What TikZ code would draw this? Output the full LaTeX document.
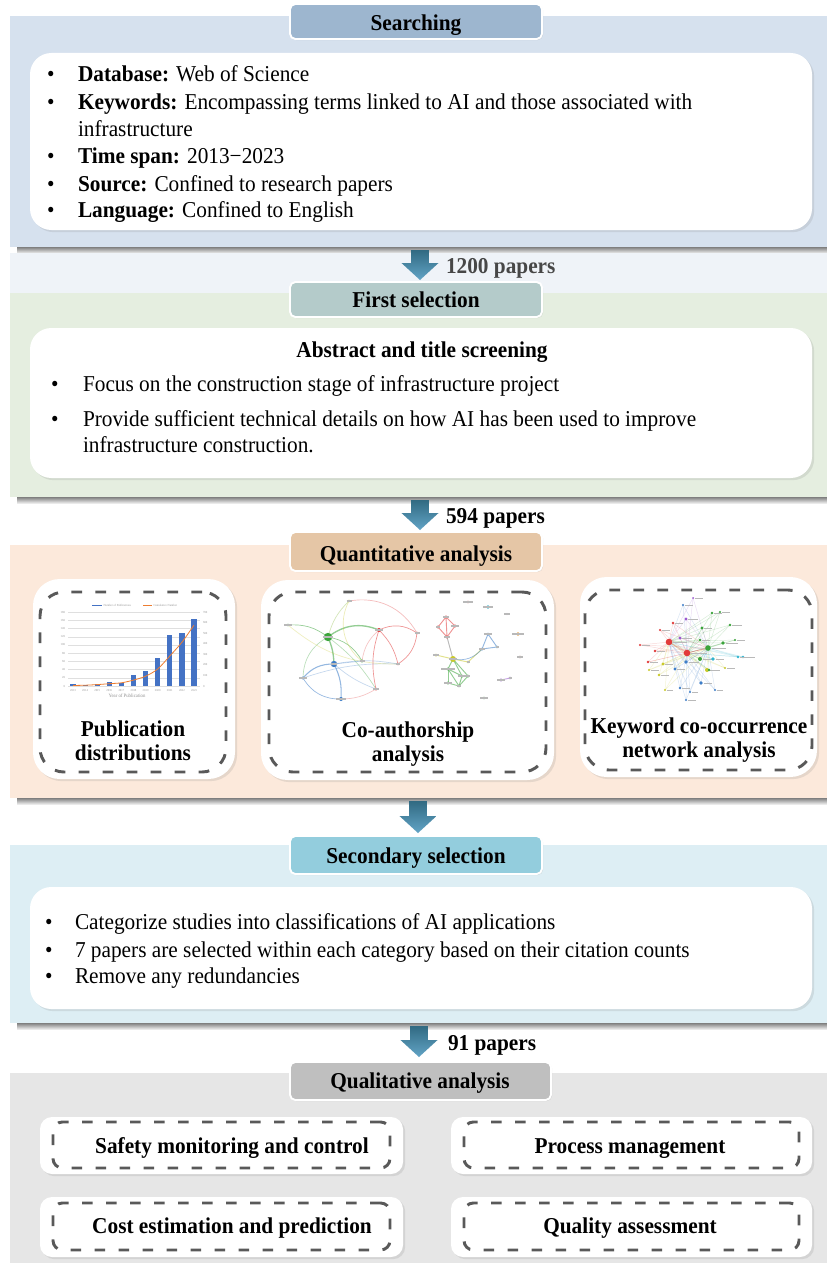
\documentclass[tikz,border=0pt]{standalone}
\usepackage{fontspec}
\setmainfont{Liberation Serif}[FakeStretch=0.94]
\usetikzlibrary{shadows,fit,calc}

\definecolor{searchbg}{HTML}{D6E1EE}
\definecolor{searchhd}{HTML}{9DB6CF}
\definecolor{bandbg}{HTML}{EFF3F8}
\definecolor{firstbg}{HTML}{E5EEE0}
\definecolor{firsthd}{HTML}{B4CBCA}
\definecolor{quantbg}{HTML}{FCE9DB}
\definecolor{quanthd}{HTML}{E5C6A6}
\definecolor{secbg}{HTML}{DDEEF4}
\definecolor{sechd}{HTML}{93CDDD}
\definecolor{qualbg}{HTML}{E6E6E6}
\definecolor{qualhd}{HTML}{BFBFBF}
\definecolor{dashgray}{HTML}{595959}
\definecolor{arrowtop}{HTML}{316A82}
\definecolor{arrowbot}{HTML}{62A4C6}
\definecolor{barblue}{HTML}{4472C4}
\definecolor{cumorange}{HTML}{ED7D31}
\definecolor{knred}{HTML}{E23B3B}
\definecolor{kngreen}{HTML}{3BA43B}
\definecolor{knblue}{HTML}{3E7EC8}
\definecolor{knyellow}{HTML}{C9C92A}
\definecolor{knpurple}{HTML}{9B59D0}
\definecolor{kncyan}{HTML}{2FB5CF}
\definecolor{knorange}{HTML}{E89A3C}
\definecolor{knbrown}{HTML}{A0523C}
\definecolor{knpink}{HTML}{D860C0}

% block arrow from the top of its shaft (#1) to its tip (#2)
\newcommand\flowarrow[2]{%
  \path[top color=arrowtop, bottom color=arrowbot]
    let \p1=(#1), \p2=(#2) in
    (\x1-6.6pt,\y1) -- (\x1+6.6pt,\y1) -- (\x1+6.6pt,\y2+12.75pt)
    -- (\x1+13.9pt,\y2+12.75pt) -- (\x2,\y2) -- (\x1-13.9pt,\y2+12.75pt)
    -- (\x1-6.6pt,\y2+12.75pt) -- cycle;}

\begin{document}
\begin{tikzpicture}[x=0.75pt,y=-0.75pt,
  every node/.style={inner sep=0pt, outer sep=0pt},
  sectbg/.style={inner sep=0pt, draw=none},
  sectshadow/.style={top color=black!50, bottom color=black!8},
  titlebox/.style={inner sep=0pt, draw=white, line width=1.4pt, rounded corners=4pt,
    drop shadow={opacity=0.2, shadow xshift=0.8pt, shadow yshift=-0.8pt}},
  whitebox/.style={inner sep=0pt, fill=white, draw=none,
    drop shadow={opacity=0.18, shadow xshift=1.6pt, shadow yshift=-1.6pt}},
  dashbox/.style={inner sep=0pt, draw=dashgray, line width=2.2pt,
    dash pattern=on 8pt off 10pt},
  bodytext/.style={font=\fontsize{17}{20}\selectfont, anchor=base west},
  headtext/.style={font=\bfseries\fontsize{17}{20}\selectfont, anchor=base},
  numtext/.style={font=\bfseries\fontsize{17}{20}\selectfont, anchor=base west},
  tinytext/.style={font=\fontsize{2.3}{2.6}\selectfont, text=gray!80},
  lbl/.style={draw=gray!55, line width=0.8pt},
  caedge/.style={line width=0.5pt, opacity=0.55},
]
\useasboundingbox (0,0) rectangle (827,1263);
\fill[white] (0,0) rectangle (827,1263);

%% ---------------- Searching ----------------
\node[sectbg, fit={(10,16) (827,247)}, fill=searchbg] (sec1) {};
\shade[sectshadow] (17,247) rectangle (827,253);
\fill[bandbg] (10,253) rectangle (827,293);
\node[titlebox, fill=searchhd, fit={(290,4) (542,39)}] (hd1) {};
\node[headtext] (hd1t) at (416,31) {Searching};
\node[whitebox, rounded corners=16pt, fit={(30,53) (812,230)}] (wb1) {};
\node[bodytext] (s1b1) at (47,82) {•};
\node[bodytext] (s1t1) at (78,82) {\textbf{Database:} Web of Science};
\node[bodytext] (s1b2) at (47,109) {•};
\node[bodytext] (s1t2) at (78,109) {\textbf{Keywords:} Encompassing terms linked to AI and those associated with};
\node[bodytext] (s1t2b) at (78,136) {infrastructure};
\node[bodytext] (s1b3) at (47,163) {•};
\node[bodytext] (s1t3) at (78,163) {\textbf{Time span:} 2013−2023};
\node[bodytext] (s1b4) at (47,191) {•};
\node[bodytext] (s1t4) at (78,191) {\textbf{Source:} Confined to research papers};
\node[bodytext] (s1b5) at (47,217) {•};
\node[bodytext] (s1t5) at (78,217) {\textbf{Language:} Confined to English};

%% ---------------- First selection ----------------
\node[sectbg, fit={(10,293) (827,497)}, fill=firstbg] (sec2) {};
\shade[sectshadow] (17,497) rectangle (827,503);
\coordinate (a1s) at (420,250);
\coordinate (a1e) at (420,280);
\flowarrow{a1s}{a1e}
\node[numtext, text=black!72] (n1) at (446,273) {1200 papers};
\node[titlebox, fill=firsthd, fit={(290,282) (542,317)}] (hd2) {};
\node[headtext] (hd2t) at (416,307) {First selection};
\node[whitebox, rounded corners=16pt, fit={(30,328) (812,478)}] (wb2) {};
\node[headtext] (s2h) at (422,357) {Abstract and title screening};
\node[bodytext] (s2b1) at (51,391) {•};
\node[bodytext] (s2t1) at (83,391) {Focus on the construction stage of infrastructure project};
\node[bodytext] (s2b2) at (51,426) {•};
\node[bodytext] (s2t2) at (83,426) {Provide sufficient technical details on how AI has been used to improve};
\node[bodytext] (s2t2b) at (83,452) {infrastructure construction.};

%% ---------------- Quantitative analysis ----------------
\node[sectbg, fit={(10,545) (827,798)}, fill=quantbg] (sec3) {};
\shade[sectshadow] (17,798) rectangle (827,804);
\coordinate (a2s) at (420,500);
\coordinate (a2e) at (420,530);
\flowarrow{a2s}{a2e}
\node[numtext] (n2) at (446,523) {594 papers};
\node[titlebox, fill=quanthd, fit={(290,532) (542,571)}] (hd3) {};
\node[headtext] (hd3t) at (416,561) {Quantitative analysis};

\node[whitebox, rounded corners=20pt, fit={(33,579) (235,779)}] (qa) {};
\node[dashbox, rounded corners=18pt, fit={(40,592) (226,772)}] (qad) {};
\node[whitebox, rounded corners=20pt, fit={(261,580) (554,780)}] (qb) {};
\node[dashbox, rounded corners=18pt, fit={(269,592) (546,772)}] (qbd) {};
\node[whitebox, rounded corners=20pt, fit={(580,577) (817,777)}] (qc) {};
\node[dashbox, rounded corners=18pt, fit={(585,590) (812,770)}] (qcd) {};

% publication distribution chart
\foreach \k in {0,...,9} {
  \draw[gray!25, line width=0.2pt] (68,{686-\k*8.22}) -- (200,{686-\k*8.22});
  \pgfmathtruncatemacro\lv{\k*20}
  \node[tinytext, anchor=east] (yl\k) at (65,{686-\k*8.22}) {\lv};
}
\foreach \k in {0,...,7} {
  \pgfmathtruncatemacro\rv{\k*100}
  \node[tinytext, anchor=west] (yr\k) at (203,{686-\k*10.57}) {\rv};
}
\foreach \v [count=\i from 0] in {5,3,5,9,8,26,37,68,123,129,163} {
  \fill[barblue] ({73+12.1*\i-2.6},686) rectangle ++(5.2,{-\v*0.411});
}
\foreach \yr [count=\i from 0] in {2013,2014,2015,2016,2017,2018,2019,2020,2021,2022,2023} {
  \node[tinytext] (yy\i) at ({73+12.1*\i},690) {\yr};
}
\draw[cumorange, line width=0.6pt] plot[smooth] coordinates {(73,685.5) (85.1,685.2) (97.2,684.6)
  (109.3,683.7) (121.4,682.8) (133.5,680.1) (145.6,676.2) (157.7,669.0) (169.8,656.0)
  (181.9,642.3) (194,625.1)};
\fill[barblue] (92,604.8) rectangle (102,606.4);
\node[tinytext, anchor=west] (lg1) at (103.5,605.6) {Number of Publications};
\draw[cumorange, line width=0.6pt] (143,605.6) -- (152,605.6);
\node[tinytext, anchor=west] (lg2) at (153.5,605.6) {Cumulative Number};
\node[font=\fontsize{3.8}{4}\selectfont, text=gray!85] (xlab) at (127,696) {Year of Publication};

% co-authorship network, left group
\coordinate (g0) at (328,637); \coordinate (b0) at (334,664);
\coordinate (t0) at (349,601); \coordinate (l0) at (288,625);
\coordinate (r0) at (379,630); \coordinate (r1) at (417,633);
\coordinate (gs) at (362,661); \coordinate (r2) at (398,664);
\coordinate (bl) at (303,678); \coordinate (rb) at (376,689);
\coordinate (bb) at (341,699);
\draw[caedge, kngreen] (g0) to[bend right=20] (l0);
\draw[caedge, kngreen!50!knyellow, opacity=0.35] (g0) to[bend left=15] (t0);
\draw[caedge, kngreen, line width=1pt] (g0) to[bend left=30] (r0);
\draw[caedge, kngreen, line width=1pt] (g0) to[bend left=10] (b0);
\draw[caedge, kngreen] (g0) to[bend left=25] (gs);
\draw[caedge, kngreen, opacity=0.35] (g0) to[bend right=30] (bl);
\draw[caedge, kngreen, opacity=0.35] (g0) to[bend left=10] (rb);
\draw[caedge, knblue, line width=0.8pt] (b0) to[bend right=25] (bl);
\draw[caedge, knblue, line width=0.8pt] (b0) to[bend left=15] (bb);
\draw[caedge, knblue] (bl) to[bend right=30] (bb);
\draw[caedge, knblue, opacity=0.35] (b0) to (gs);
\draw[caedge, knblue, opacity=0.3] (b0) to[bend left=10] (r2);
\draw[caedge, knblue, opacity=0.3] (b0) to[bend right=10] (rb);
\draw[caedge, knblue, opacity=0.3] (bl) to[bend left=10] (r2);
\draw[caedge, knred] (r0) to[bend left=30] (r1);
\draw[caedge, knred] (r1) to[bend left=25] (r2);
\draw[caedge, knred] (r0) to[bend left=15] (r2);
\draw[caedge, knred] (r0) to[bend right=15] (rb);
\draw[caedge, knred, opacity=0.35] (t0) to[bend left=35] (r1);
\draw[caedge, knred, opacity=0.3] (rb) to[bend left=15] (bb);
\draw[caedge, knred, opacity=0.3] (r0) to[bend right=20] (gs);
\draw[caedge, knyellow, opacity=0.35] (t0) to[bend right=40] (gs);
\draw[caedge, knyellow, opacity=0.3] (l0) to[bend right=20] (r2);
\foreach \cn/\cc/\cr/\cl in {g0/kngreen/4.2/10, b0/knblue/3.2/6, t0/knyellow/1.4/5,
   l0/kngreen/1.4/8, r0/knred/2/8, r1/knred/1.3/5, gs/kngreen/1.6/5, r2/knred/1.3/4,
   bl/knblue/1.6/8, rb/knred/1.5/6, bb/knblue/2/10} {
  \fill[\cc] (\cn) circle (\cr);
  \draw[lbl] ($(\cn)+(-\cl/2,0)$) -- ++(\cl,0);
}

% co-authorship network, right group
\coordinate (rr1) at (446,617); \coordinate (rr2) at (455,626);
\coordinate (rr3) at (438,627); \coordinate (rr4) at (447,637);
\coordinate (y0) at (453,659); \coordinate (y1) at (436,655); \coordinate (y2) at (468,662);
\coordinate (gg1) at (448,669); \coordinate (gg2) at (462,676); \coordinate (gg3) at (468,676);
\coordinate (gg4) at (448,683); \coordinate (gg5) at (459,686);
\coordinate (bu1) at (488,634); \coordinate (bu2) at (482,649); \coordinate (bu3) at (497,647);
\coordinate (cy) at (488,607); \coordinate (rt) at (468,602); \coordinate (pk) at (507,614);
\coordinate (org) at (518,634); \coordinate (brn) at (520,657);
\coordinate (pu1) at (501,680); \coordinate (pu2) at (510,678); \coordinate (gx) at (484,698);
\foreach \ea/\eb/\ec in {rr1/rr2/knred, rr1/rr3/knred, rr2/rr4/knred, rr3/rr4/knred,
   rr1/rr4/knred, rr4/y0/gray, y0/y1/knyellow, y0/y2/knyellow, y0/gg1/kngreen,
   y0/gg2/kngreen, y0/gg3/kngreen, gg1/gg2/kngreen, gg1/gg4/kngreen, gg2/gg5/kngreen,
   gg3/gg5/kngreen, gg4/gg5/kngreen, gg1/gg5/kngreen, gg2/gg3/kngreen, bu2/bu1/knblue,
   bu1/bu3/knblue, bu2/bu3/knblue, y2/bu2/knyellow, pu1/pu2/knpurple} {
  \draw[caedge, \ec, line width=0.7pt] (\ea) -- (\eb);
}
\draw[caedge, knblue] (y0) to[bend right=30] (bu2);
\foreach \cn/\cc/\cr/\cl in {rr1/knred/1.6/6, rr2/knred/1.6/8, rr3/knred/1.6/4, rr4/knred/1.6/6,
   y0/knyellow/3/8, y1/knyellow/1.5/6, y2/knyellow/1.4/3, gg1/kngreen/1.6/14,
   gg2/kngreen/1.5/8, gg3/kngreen/1.5/4, gg4/kngreen/1.6/8, gg5/kngreen/1.4/4,
   bu1/knblue/1.5/8, bu2/knblue/1.5/6, bu3/kncyan/1.3/3, cy/kncyan/1.8/10, rt/knred/1.3/10,
   pk/knpink/1.2/6, org/knorange/1.8/12, brn/knbrown/1.3/6, pu1/knpurple/1.6/8,
   pu2/knpurple/1.3/3, gx/kngreen/1.4/8} {
  \fill[\cc] (\cn) circle (\cr);
  \draw[lbl] ($(\cn)+(-\cl/2,0)$) -- ++(\cl,0);
}

% keyword co-occurrence network
\coordinate (kh1) at (669,642); \coordinate (kh2) at (687,653); \coordinate (kh3) at (708,648);
\foreach \nx/\ny/\nc in {686/619/knpurple, 680/638/knpurple, 702/628/kngreen, 712/613/kngreen,
   723/643/kngreen, 700/659/kngreen, 713/659/kncyan, 686/662/knblue, 707/670/knyellow,
   663/664/knyellow, 675/669/knblue, 655/651/knred, 648/662/knred, 673/623/knred,
   683/605/knblue, 730/625/kngreen, 743/657/kncyan, 701/683/knblue, 659/675/knyellow,
   680/688/knblue, 686/700/knblue, 709/670/kngreen, 649/670/knyellow, 738/657/kncyan,
   660/630/knred, 700/640/kngreen, 725/668/knyellow, 690/692/knblue, 715/690/knblue,
   665/690/knyellow, 720/612/kngreen, 693/598/knpurple, 640/645/knred, 735/640/kngreen} {
  \draw[\nc, line width=0.35pt, opacity=0.2] (\nx,\ny) -- (kh1);
  \draw[\nc, line width=0.35pt, opacity=0.2] (\nx,\ny) -- (kh2);
  \draw[\nc, line width=0.35pt, opacity=0.2] (\nx,\ny) -- (kh3);
}
\draw[knred, line width=0.5pt, opacity=0.4] (kh1) -- (kh2) -- (kh3);
\foreach \nx/\ny/\nc/\nr/\nl in {669/642/knred/3.3/14, 687/653/knred/3.3/16, 708/648/kngreen/2.8/14,
   686/619/knpurple/1.6/10, 680/638/knpurple/1.6/10, 702/628/kngreen/1.6/8, 712/613/kngreen/1.4/8,
   723/643/kngreen/1.8/12, 700/659/kngreen/2/10, 713/659/kncyan/1.8/8, 686/662/knblue/1.8/10,
   707/670/knyellow/2/10, 663/664/knyellow/1.6/8, 675/669/knblue/1.6/8, 655/651/knred/1.4/8,
   648/662/knred/1.4/8, 673/623/knred/1.4/8, 683/605/knblue/1.1/8, 730/625/kngreen/1.4/10,
   743/657/kncyan/1.4/10, 701/683/knblue/1.8/8, 659/675/knyellow/1.4/8, 680/688/knblue/1.4/8,
   686/700/knblue/1.2/8, 709/670/kngreen/1.4/8, 649/670/knyellow/1.2/8, 738/657/kncyan/1.4/8,
   660/630/knred/1.2/8, 700/640/kngreen/1.4/8, 725/668/knyellow/1.2/8, 690/692/knblue/1.2/6,
   715/690/knblue/1.1/6, 665/690/knyellow/1.1/6, 720/612/kngreen/1.1/8, 693/598/knpurple/1/8,
   640/645/knred/1.1/8, 735/640/kngreen/1.1/8} {
  \fill[\nc] (\nx,\ny) circle (\nr);
  \draw[lbl, line width=0.7pt] ({\nx+\nr+0.8},\ny) -- ++(\nl,0);
}

\node[headtext] (qat1) at (133,736) {Publication};
\node[headtext] (qat2) at (133,760) {distributions};
\node[headtext] (qbt1) at (408,737) {Co-authorship};
\node[headtext] (qbt2) at (408,761) {analysis};
\node[headtext] (qct1) at (699,733) {Keyword co-occurrence};
\node[headtext] (qct2) at (699,757) {network analysis};

%% ---------------- Secondary selection ----------------
\node[sectbg, fit={(10,845) (827,1023)}, fill=secbg] (sec4) {};
\shade[sectshadow] (17,1023) rectangle (827,1029);
\coordinate (a3s) at (418,801);
\coordinate (a3e) at (418,833);
\flowarrow{a3s}{a3e}
\node[titlebox, fill=sechd, fit={(290,836) (542,874)}] (hd4) {};
\node[headtext] (hd4t) at (416,863) {Secondary selection};
\node[whitebox, rounded corners=16pt, fit={(30,887) (812,1009)}] (wb4) {};
\node[bodytext] (s4b1) at (45,929) {•};
\node[bodytext] (s4t1) at (75,929) {Categorize studies into classifications of AI applications};
\node[bodytext] (s4b2) at (45,957) {•};
\node[bodytext] (s4t2) at (75,957) {7 papers are selected within each category based on their citation counts};
\node[bodytext] (s4b3) at (45,983) {•};
\node[bodytext] (s4t3) at (75,983) {Remove any redundancies};

%% ---------------- Qualitative analysis ----------------
\node[sectbg, fit={(10,1073) (827,1263)}, fill=qualbg] (sec5) {};
\coordinate (a4s) at (419,1026);
\coordinate (a4e) at (419,1057);
\flowarrow{a4s}{a4e}
\node[numtext] (n4) at (448,1050) {91 papers};
\node[titlebox, fill=qualhd, fit={(290,1062) (551,1100)}] (hd5) {};
\node[headtext] (hd5t) at (420,1088) {Qualitative analysis};

\node[whitebox, rounded corners=9pt, fit={(40,1117) (403,1174)}] (qs) {};
\node[dashbox, rounded corners=7pt, fit={(53,1122) (390,1168)}] (qsd) {};
\node[headtext] (qst) at (232,1153) {Safety monitoring and control};
\node[whitebox, rounded corners=9pt, fit={(451,1117) (812,1174)}] (qp) {};
\node[dashbox, rounded corners=7pt, fit={(464,1122) (799,1168)}] (qpd) {};
\node[headtext] (qpt) at (630,1153) {Process management};
\node[whitebox, rounded corners=9pt, fit={(40,1197) (403,1257)}] (qe) {};
\node[dashbox, rounded corners=7pt, fit={(53,1203) (390,1250)}] (qed) {};
\node[headtext] (qet) at (232,1233) {Cost estimation and prediction};
\node[whitebox, rounded corners=9pt, fit={(451,1197) (812,1257)}] (qq) {};
\node[dashbox, rounded corners=7pt, fit={(464,1203) (799,1250)}] (qqd) {};
\node[headtext] (qqt) at (630,1233) {Quality assessment};
\end{tikzpicture}
\end{document}
